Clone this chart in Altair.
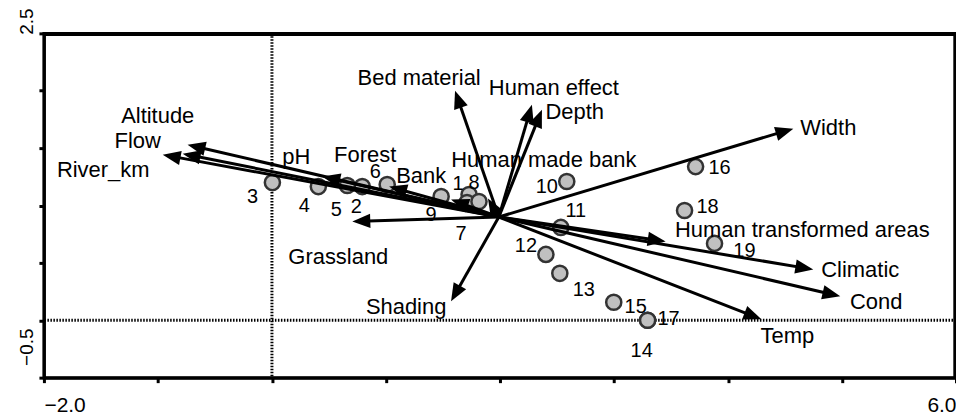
import altair as alt
import pandas as pd
import numpy as np

# ---------------- data ----------------
site_ids = ["1", "2", "3", "4", "5", "6", "7", "8", "9", "10",
            "11", "12", "13", "14", "15", "16", "17", "18", "19"]
site_x = [1.729, 0.792, 0.004, 0.407, 0.661, 1.011, 1.711, 1.816, 1.484, 2.586,
          2.534, 2.403, 2.525, 3.295, 2.998, 3.716, 3.295, 3.619, 3.882]
site_y = [1.096, 1.165, 1.200, 1.165, 1.174, 1.183, 1.026, 1.035, 1.078, 1.209,
          0.809, 0.574, 0.409, 0.000, 0.157, 1.339, 0.000, 0.957, 0.670]
site_lab_x = [1.632, 0.740, -0.171, 0.284, 0.565, 0.906, 1.659, 1.772, 1.396, 2.411,
              2.665, 2.228, 2.735, 3.243, 3.190, 3.926, 3.479, 3.821, 4.144]
site_lab_y = [1.191, 0.983, 1.070, 1.000, 0.965, 1.296, 0.748, 1.200, 0.913, 1.165,
              0.948, 0.643, 0.261, -0.270, 0.113, 1.330, 0.009, 0.983, 0.600]

var_names = ["Altitude", "Flow", "River_km", "pH", "Forest", "Bank",
             "Human made bank", "Grassland", "Bed material", "Human effect",
             "Depth", "Width", "Human transformed areas", "Climatic", "Cond",
             "Temp", "Shading"]
var_x = [-0.740, -0.783, -0.958, 0.442, 1.028, 1.571,
         1.895, 0.705, 1.606, 2.280,
         2.368, 4.573, 3.453, 4.748, 4.985,
         4.293, 1.571]
var_y = [1.530, 1.452, 1.443, 1.252, 1.165, 1.052,
         1.061, 0.861, 2.000, 1.878,
         1.835, 1.670, 0.687, 0.443, 0.209,
         0.009, 0.165]
var_lab_x = [-1.002, -1.177, -1.480, 0.214, 0.818, 1.309,
             2.385, 0.582, 1.291, 2.473,
             2.656, 4.880, 4.652, 5.160, 5.300,
             4.521, 1.177]
var_lab_y = [1.783, 1.565, 1.313, 1.426, 1.443, 1.261,
             1.400, 0.548, 2.113, 2.026,
             1.817, 1.678, 0.783, 0.435, 0.157,
             -0.139, 0.113]

origin_x, origin_y = 1.99, 0.90

x_ticks = [-2, -1, 0, 1, 2, 3, 4, 5, 6]
y_ticks = [-0.5, 0.0, 0.5, 1.0, 1.5, 2.0, 2.5]
x_domain = [-2, 6]
y_domain = [-0.5, 2.5]

# ---------------- layout ----------------
W, H = 914, 345
FONT = "Liberation Sans"
LW = 3
sx = W / (x_domain[1] - x_domain[0])
sy = H / (y_domain[1] - y_domain[0])

sites = pd.DataFrame({"id": site_ids, "x": site_x, "y": site_y,
                      "lx": site_lab_x, "ly": site_lab_y})

vars_df = pd.DataFrame({"name": var_names, "tx": var_x, "ty": var_y,
                        "lx": var_lab_x, "ly": var_lab_y})
vars_df["ox"] = origin_x
vars_df["oy"] = origin_y
dxp = (vars_df["tx"] - origin_x) * sx
dyp = (vars_df["ty"] - origin_y) * sy
lenp = np.sqrt(dxp ** 2 + dyp ** 2)
vars_df["angle"] = (np.degrees(np.arctan2(dxp, dyp)) + 360) % 360
back = 8.0
vars_df["ex"] = vars_df["tx"] - back * (dxp / lenp) / sx
vars_df["ey"] = vars_df["ty"] - back * (dyp / lenp) / sy

# line segments: the arrow shafts plus the top and right edges of the box
inset = 1.2
top_y = y_domain[1] - inset / sy
right_x = x_domain[1] - inset / sx
frame_rows = pd.DataFrame({
    "ox": [x_domain[0], right_x],
    "oy": [top_y, y_domain[0]],
    "ex": [x_domain[1], right_x],
    "ey": [top_y, y_domain[1]],
})
segments = pd.concat([vars_df[["ox", "oy", "ex", "ey"]], frame_rows],
                     ignore_index=True)

zero = pd.DataFrame({"v": [0.0]})

xscale = alt.Scale(domain=x_domain, nice=False, zero=False)
yscale = alt.Scale(domain=y_domain, nice=False, zero=False)

xaxis = alt.Axis(
    values=x_ticks, title=None, grid=False, format=".1f",
    labelExpr="(datum.value == -2 || datum.value == 6) ? datum.label : ''",
    labelAlign={"condition": {"test": "datum.value < 0", "value": "left"}, "value": "right"},
    labelBaseline="top", labelPadding=12, labelFontSize=21, labelFont=FONT,
    labelColor="black", tickSize=5, tickWidth=LW, tickColor="black",
    domainColor="black", domainWidth=LW, labelOverlap=False, labelFlush=False,
)
yaxis = alt.Axis(
    values=y_ticks, title=None, grid=False, format=".1f",
    labelExpr="(datum.value == -0.5 || datum.value == 2.5) ? datum.label : ''",
    labelAngle=-90,
    labelAlign={"condition": {"test": "datum.value > 1", "value": "left"}, "value": "center"},
    labelOffset={"condition": {"test": "datum.value < 0", "value": -31}, "value": 1},
    labelBaseline="alphabetic", labelPadding=6, labelFontSize=19, labelFont=FONT,
    labelColor="black", tickSize=5, tickWidth=LW, tickColor="black",
    domainColor="black", domainWidth=LW, labelOverlap=False, labelFlush=False,
)


def X(field):
    return alt.X(field, type="quantitative", scale=xscale, axis=xaxis)


def Y(field):
    return alt.Y(field, type="quantitative", scale=yscale, axis=yaxis)


vline = alt.Chart(zero).mark_rule(color="black", strokeWidth=LW,
                                  strokeDash=[1.5, 1.5]).encode(x=X("v"))
hline = alt.Chart(zero).mark_rule(color="black", strokeWidth=LW,
                                  strokeDash=[1.5, 1.5]).encode(y=Y("v"))

circles = alt.Chart(sites).mark_point(
    shape="circle", filled=True, fill="#c0c0c0", stroke="#333333",
    strokeWidth=2.5, size=230, opacity=1
).encode(x=X("x"), y=Y("y"))

lines = alt.Chart(segments).mark_rule(color="black", strokeWidth=LW).encode(
    x=X("ox"), y=Y("oy"), x2="ex", y2="ey"
)

heads = alt.Chart(vars_df).mark_point(
    shape="M0,0L-0.4,1L0.4,1Z", filled=True, fill="black", strokeWidth=0,
    size=1296, opacity=1
).encode(x=X("tx"), y=Y("ty"), angle=alt.Angle("angle:Q", scale=None))

site_text = alt.Chart(sites).mark_text(
    font=FONT, fontSize=20, color="black", align="center", baseline="middle"
).encode(x=X("lx"), y=Y("ly"), text="id:N")

var_text = alt.Chart(vars_df).mark_text(
    font=FONT, fontSize=22, color="black", align="center", baseline="middle"
).encode(x=X("lx"), y=Y("ly"), text="name:N")

chart = alt.layer(vline, hline, circles, lines, heads,
                  site_text, var_text).properties(
    width=W, height=H,
    autosize=alt.AutoSizeParams(type="none"),
    padding={"left": 36, "top": 25, "right": 0, "bottom": 38},
    background="white",
).configure_view(stroke="black", strokeWidth=LW)

chart.save("out.html", embed_options={"renderer": "svg", "actions": False})
